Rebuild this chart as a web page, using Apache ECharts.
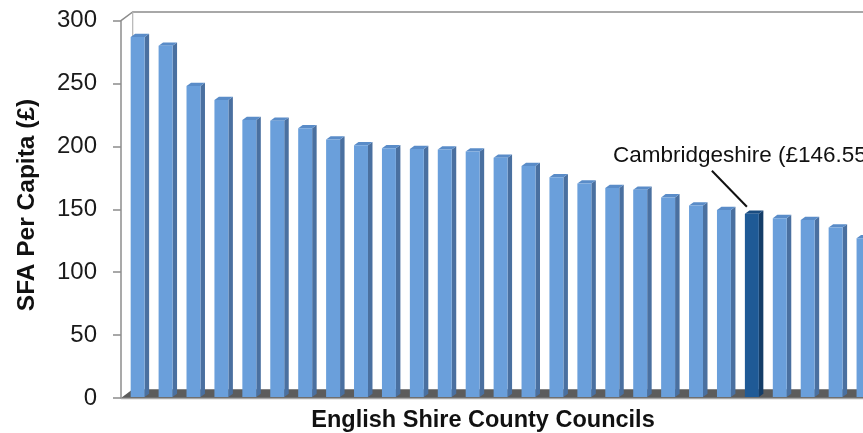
<!DOCTYPE html>
<html>
<head>
<meta charset="utf-8">
<script src="https://cdn.jsdelivr.net/npm/echarts@6/dist/echarts.min.js"></script>
<style>
  html, body { margin: 0; padding: 0; background: #fff; }
  #main { width: 863px; height: 433px; }
</style>
</head>
<body>
<div id="main"></div>
<script>
var main = echarts.init(document.getElementById('main'));

// councils ranked by SFA per capita (only Cambridgeshire is named on the chart)
var ranks = ['1', '2', '3', '4', '5', '6', '7', '8', '9', '10', '11', '12', '13', '14',
	'15', '16', '17', '18', '19', '20', '21', '22', '23', '24', '25', '26', '27'];
var sfa = [287, 280, 248, 237, 221, 220.5, 214.5, 205.5, 201, 198.5, 198, 197.5, 196, 191,
	184.5, 175.5, 170.5, 167, 165.5, 159.5, 153, 149.5, 146.55, 143, 141.5, 135.5, 127];
var highlight = 22; // Cambridgeshire
var highlightText = 'Cambridgeshire (£146.55)';
var yTicks = [0, 50, 100, 150, 200, 250, 300];

var font = "'Liberation Sans', Arial, sans-serif";

var barData = [];
for (var i = 0; i < sfa.length; i++) {
	barData.push([i, sfa[i]]);
}

// depth of the 3d box and of each column
var wallDx = 11.7, wallDy = 8.7;
var barDx = 4.5, barDy = 3.3;

function renderFrame(params, api) {
	var cs = params.coordSys;
	var y0 = api.coord([0, 0])[1];
	var yTop = api.coord([0, 300])[1];
	var ax = cs.x - 2.7;
	var right = cs.x + cs.width + 40;
	return {
		type: 'group',
		children: [
			// floor
			{ type: 'polygon', shape: { points: [[ax, y0], [ax + wallDx, y0 - wallDy], [right, y0 - wallDy], [right, y0]] },
				style: { fill: '#5c5c5c' } },
			{ type: 'line', shape: { x1: ax, y1: y0 + 0.5, x2: right, y2: y0 + 0.5 },
				style: { stroke: '#a6a6a6', lineWidth: 1.5 } },
			// back wall outline
			{ type: 'polyline', shape: { points: [[ax, yTop], [ax + wallDx, yTop - wallDy], [right, yTop - wallDy]] },
				style: { stroke: '#8c8c8c', lineWidth: 1.5, fill: null } },
			{ type: 'line', shape: { x1: ax + wallDx, y1: yTop - wallDy, x2: ax + wallDx, y2: y0 - wallDy },
				style: { stroke: '#b4b4b4', lineWidth: 1.2 } }
		]
	};
}

function renderBar(params, api) {
	var i = api.value(0);
	var top = api.coord([i, api.value(1)]);
	var base = api.coord([i, 0]);
	var w = api.size([1, 0])[0] * 0.5;
	var x0 = top[0] - w / 2, x1 = top[0] + w / 2;
	var yv = top[1], yb = base[1] - 1;
	var hi = i === highlight;
	var front = hi ? '#1f5a96' : '#6a9fdb';
	var side = hi ? '#143d68' : '#4a70a0';
	var lid = hi ? '#1a4c80' : '#5a8cc8';
	var children = [
		{ type: 'polygon', shape: { points: [[x1, yv], [x1 + barDx, yv - barDy], [x1 + barDx, yb - barDy], [x1, yb]] },
			style: { fill: side } },
		{ type: 'polygon', shape: { points: [[x0, yv], [x0 + barDx, yv - barDy], [x1 + barDx, yv - barDy], [x1, yv]] },
			style: { fill: lid } },
		{ type: 'rect', shape: { x: x0, y: yv, width: w, height: yb - yv },
			style: { fill: front } }
	];
	if (hi) {
		children.push({ type: 'line', shape: { x1: x0 - 33, y1: yv - 43, x2: x0 + 2, y2: yv - 7 },
			style: { stroke: '#111', lineWidth: 2 } });
		children.push({ type: 'text', x: x0 - 132, y: yv - 58,
			style: { text: highlightText, fill: '#111', font: '22.5px ' + font, verticalAlign: 'middle', align: 'left' } });
	}
	return { type: 'group', children: children };
}

option = {
	animation: false,
	backgroundColor: '#fff',
	grid: { left: 123.7, top: 20.7, width: 753.8, height: 377.3, outerBoundsMode: 'none', containLabel: false },
	xAxis: {
		type: 'category',
		data: ranks,
		axisLine: { show: false },
		axisTick: { show: false },
		axisLabel: { show: false }
	},
	yAxis: {
		type: 'value',
		min: 0,
		max: 300,
		interval: 50,
		offset: 2.7,
		splitLine: { show: false },
		axisLine: { show: true, lineStyle: { color: '#8c8c8c', width: 1.5 } },
		axisTick: { show: true, length: 8, lineStyle: { color: '#8c8c8c', width: 1.5 } },
		axisLabel: {
			margin: 24,
			color: '#1a1a1a',
			fontSize: 24,
			fontFamily: font,
			formatter: function (v) { return yTicks.indexOf(v) >= 0 ? String(v) : ''; }
		}
	},
	graphic: [
		{ type: 'text', x: 27, y: 205, rotation: Math.PI / 2,
			style: { text: 'SFA Per Capita (£)', fill: '#111', font: 'bold 24.5px ' + font, align: 'center', verticalAlign: 'middle' } },
		{ type: 'text', x: 483, y: 421,
			style: { text: 'English Shire County Councils', fill: '#111', font: 'bold 23.5px ' + font, align: 'center', verticalAlign: 'middle' } }
	],
	series: [
		{ name: 'frame', type: 'custom', renderItem: renderFrame, data: [[0, 0]], silent: true, z: 1, clip: false },
		{ name: 'SFA', type: 'custom', renderItem: renderBar, data: barData, z: 2, clip: false }
	]
};
main.setOption(option);
</script>
</body>
</html>
